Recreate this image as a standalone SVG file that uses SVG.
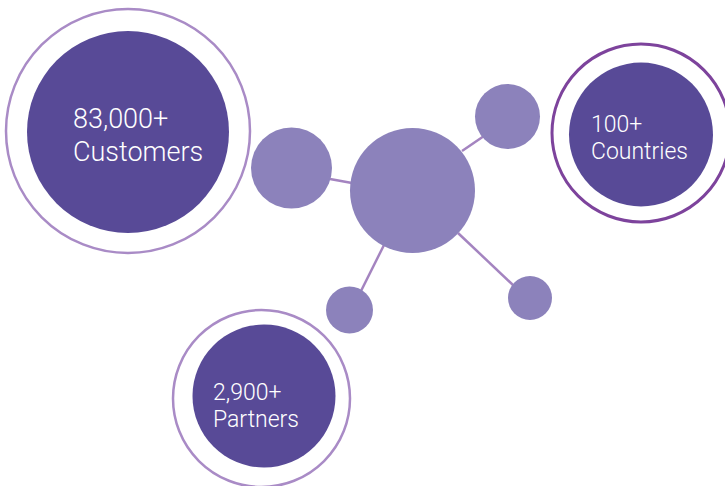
<svg xmlns="http://www.w3.org/2000/svg" width="725" height="486" viewBox="0 0 725 486">
<style>
.ring{fill:none;stroke:#a98bc6;stroke-width:2.5}
.ring2{fill:none;stroke:#7d439c;stroke-width:3}
.big{fill:#584a97}
.dot{fill:#8c82bb}
.link{stroke:#a484c0;stroke-width:2.5;fill:none}
.lbl{font-family:Roboto,"Liberation Sans",sans-serif;font-weight:300;fill:#ffffff}
</style>
<rect width="725" height="486" fill="#ffffff"/>
<g id="connectors">
<line class="link" x1="330" y1="179" x2="352" y2="183"/>
<line class="link" x1="462" y1="151" x2="484" y2="136"/>
<line class="link" x1="458" y1="233" x2="514" y2="286"/>
<line class="link" x1="384" y1="245" x2="361" y2="291"/>
</g>
<g id="hub"><circle class="dot" cx="412.5" cy="190.5" r="62.5"/></g>
<g id="node-left"><circle class="dot" cx="291.5" cy="168" r="40.5"/></g>
<g id="node-topright"><circle class="dot" cx="507.5" cy="116.5" r="32.5"/></g>
<g id="node-bottomright"><circle class="dot" cx="530" cy="298" r="22"/></g>
<g id="node-bottomleft"><circle class="dot" cx="349.5" cy="310" r="23.5"/></g>
<g id="customers">
<circle class="ring" cx="128" cy="131" r="122"/>
<circle class="big" cx="128" cy="132" r="101"/>
<text class="lbl" x="73" y="128" font-size="27">83,000+</text>
<text class="lbl" x="73" y="161" font-size="27">Customers</text>
</g>
<g id="countries">
<circle class="ring2" cx="641" cy="133" r="89"/>
<circle class="big" cx="641" cy="134.5" r="72"/>
<text class="lbl" x="591" y="132" font-size="23">100+</text>
<text class="lbl" x="591" y="159" font-size="23">Countries</text>
</g>
<g id="partners">
<circle class="ring" cx="261.5" cy="398.5" r="88.5"/>
<circle class="big" cx="264" cy="396" r="71.5"/>
<text class="lbl" x="213" y="400" font-size="23">2,900+</text>
<text class="lbl" x="213" y="427" font-size="23">Partners</text>
</g>
</svg>
